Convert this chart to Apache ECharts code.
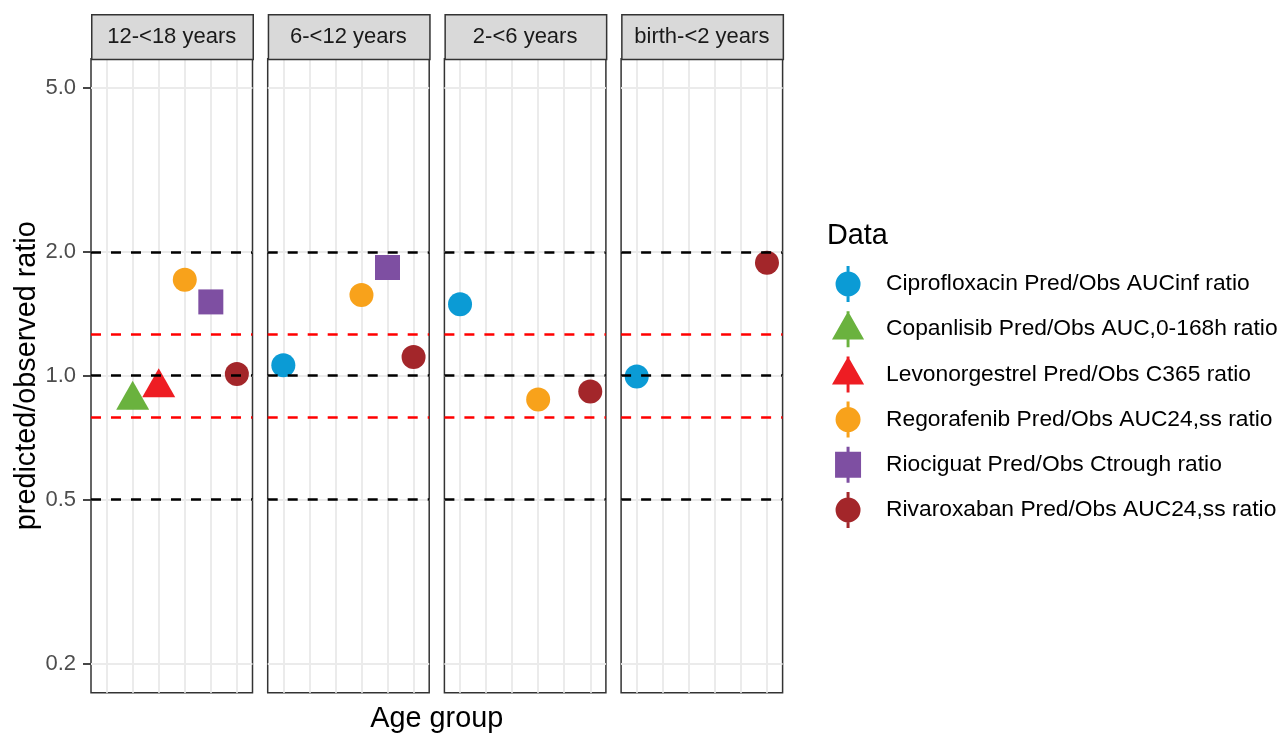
<!DOCTYPE html>
<html>
<head>
<meta charset="utf-8">
<script src="https://cdn.jsdelivr.net/npm/echarts@6/dist/echarts.min.js"></script>
<style>html,body{margin:0;padding:0;background:#fff}#c{width:1282px;height:734px}</style>
</head>
<body>
<div id="c"></div>
<script>
// ---------- data ----------
const ageGroups = ['12-<18 years', '6-<12 years', '2-<6 years', 'birth-<2 years'];
const drugNames = [
  'Ciprofloxacin Pred/Obs AUCinf ratio',
  'Copanlisib Pred/Obs AUC,0-168h ratio',
  'Levonorgestrel Pred/Obs C365 ratio',
  'Regorafenib Pred/Obs AUC24,ss ratio',
  'Riociguat Pred/Obs Ctrough ratio',
  'Rivaroxaban Pred/Obs AUC24,ss ratio'
];
// values per age group (same order as ageGroups), null = not studied
const ciprofloxacin  = [null, 1.06, 1.49, 0.995];
const copanlisib     = [0.872, null, null, null];
const levonorgestrel = [0.935, null, null, null];
const regorafenib    = [1.71, 1.57, 0.875, null];
const riociguat      = [1.51, 1.83, null, null];
const rivaroxaban    = [1.01, 1.11, 0.915, 1.88];
const yTicks = [0.2, 0.5, 1.0, 2.0, 5.0];
const refBlack = [0.5, 1.0, 2.0];
const refRed = [0.8, 1.25];
const yRange = [0.1702, 5.875];

// ---------- styles ----------
const FONT = 'Liberation Sans, Arial, sans-serif';
const drugValues = [ciprofloxacin, copanlisib, levonorgestrel, regorafenib, riociguat, rivaroxaban];
const colors = ['#0b9bd5', '#6ab23e', '#ee1d23', '#f8a21b', '#7e4fa2', '#a3262a'];
const symbols = ['circle', 'triangle', 'triangle', 'circle', 'rect', 'circle'];
const symbolSizes = [24, [33, 29], [33, 29], 24, 25, 24];
const symbolOffsets = [[0,0], [0,-5], [0,-5], [0,0], [0,0], [0,0]];
const circleIcon = 'path://M0,18 A12.5,12.5 0 1,1 25,18 A12.5,12.5 0 1,1 0,18 Z M11,0 L14,0 L14,36 L11,36 Z';
const triIcon = 'path://M16.5,0 L33,29 L0,29 Z M15,0 L18,0 L18,37 L15,37 Z';
const sqIcon = 'path://M0,5 L26,5 L26,31 L0,31 Z M11.5,0 L14.5,0 L14.5,36 L11.5,36 Z';
const icons = [circleIcon, triIcon, triIcon, circleIcon, sqIcon, circleIcon];

const panelLeft0 = 91, panelStep = 176.7, panelW = 161.5;
const panelTop = 58.7, panelH = 634;
const stripTop = 14;

const lg = v => Math.log10(v);

const grids = [], xAxes = [], yAxes = [], series = [], graphics = [];
ageGroups.forEach((g, p) => {
  const left = panelLeft0 + p * panelStep;
  grids.push({ left: left, top: panelTop, width: panelW, height: panelH,
    show: true, borderColor: '#333333', borderWidth: 1.5, backgroundColor: 'transparent' });
  xAxes.push({ gridIndex: p, type: 'value', min: 0.4, max: 6.6,
    axisLine: { show: false },
    axisTick: { show: false, customValues: drugNames.map((d, i) => i + 1) },
    axisLabel: { show: false },
    splitLine: { show: true, lineStyle: { color: '#ebebeb', width: 2 } } });
  yAxes.push({ gridIndex: p, type: 'value', min: lg(yRange[0]), max: lg(yRange[1]),
    axisLine: { show: false },
    axisTick: { show: p === 0, length: 8, lineStyle: { color: '#333333', width: 1.8 },
      customValues: yTicks.map(lg) },
    axisLabel: { show: p === 0, margin: 15, color: '#4d4d4d', fontSize: 22, fontFamily: FONT,
      customValues: yTicks.map(lg),
      formatter: v => Math.pow(10, v).toFixed(1) },
    splitLine: { show: true, lineStyle: { color: '#ebebeb', width: 2 } },
    name: p === 0 ? 'predicted/observed ratio' : '',
    nameLocation: 'middle', nameGap: 49,
    nameTextStyle: { fontSize: 28.8, color: '#000', fontFamily: FONT } });

  drugNames.forEach((d, i) => {
    const v = drugValues[i][p];
    series.push({ type: 'scatter', name: d, xAxisIndex: p, yAxisIndex: p, z: 2,
      symbol: symbols[i], symbolSize: symbolSizes[i], symbolOffset: symbolOffsets[i],
      itemStyle: { color: colors[i], opacity: 1 },
      silent: true,
      data: v == null ? [] : [[i + 1, lg(v)]] });
  });

  series.push({ type: 'scatter', name: 'ref' + p, xAxisIndex: p, yAxisIndex: p, z: 5,
    data: [], silent: true,
    markLine: { silent: true, symbol: ['none', 'none'], label: { show: false },
      animation: false,
      data: refBlack.map(v => ({ yAxis: lg(v), lineStyle: { color: '#000000', type: [10, 10], width: 2.5 } }))
        .concat(refRed.map(v => ({ yAxis: lg(v), lineStyle: { color: '#ff0000', type: [10, 10], width: 2.5 } }))) } });

  graphics.push({ type: 'rect', left: left, top: stripTop, z: 10,
    shape: { width: panelW, height: panelTop - stripTop },
    style: { fill: '#d9d9d9', stroke: '#333333', lineWidth: 1.5 } });
  graphics.push({ type: 'text', x: left + panelW / 2, y: (stripTop + panelTop) / 2 + 0.5, z: 11,
    style: { text: g, fill: '#1a1a1a', font: '22px ' + FONT, textAlign: 'center', textVerticalAlign: 'middle' } });
});

graphics.push({ type: 'text', x: (panelLeft0 + panelLeft0 + 3 * panelStep + panelW) / 2, y: 719,
  style: { text: 'Age group', fill: '#000', font: '28.8px ' + FONT, textAlign: 'center', textVerticalAlign: 'middle' } });
graphics.push({ type: 'text', x: 827, y: 236,
  style: { text: 'Data', fill: '#000', font: '28.8px ' + FONT, textAlign: 'left', textVerticalAlign: 'middle' } });

const chart = echarts.init(document.getElementById('c'), null, { renderer: 'canvas' });
chart.setOption({
  animation: false,
  backgroundColor: '#ffffff',
  grid: grids, xAxis: xAxes, yAxis: yAxes, series: series,
  legend: { orient: 'vertical', left: 832, top: 266, padding: 0, itemWidth: 66, itemHeight: 36, itemGap: 9.2,
    symbolKeepAspect: true, selectedMode: false,
    textStyle: { fontSize: 22.8, color: '#000', fontFamily: FONT },
    data: drugNames.map((d, i) => ({ name: d, icon: icons[i], itemStyle: { color: colors[i] } })) },
  graphic: graphics
});
</script>
</body>
</html>
